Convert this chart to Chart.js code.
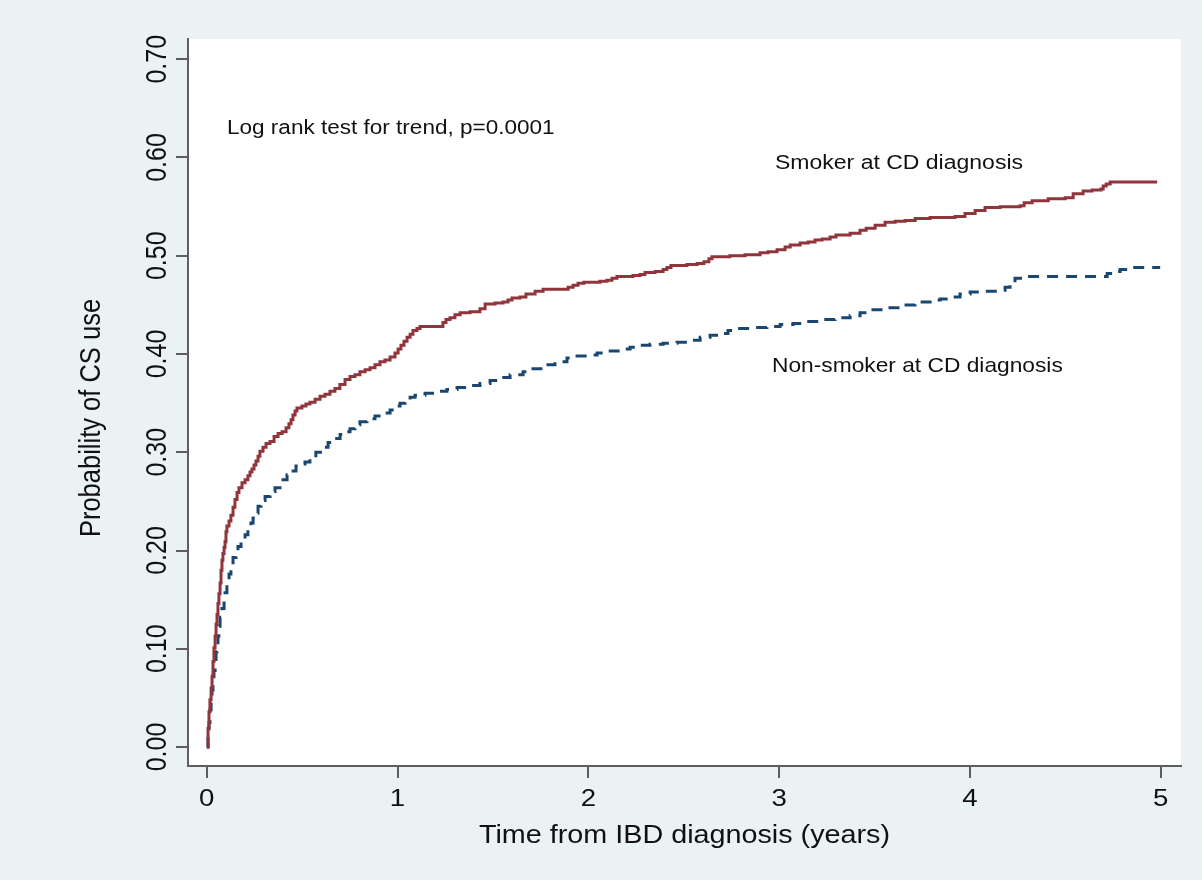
<!DOCTYPE html>
<html>
<head>
<meta charset="utf-8">
<script src="https://cdn.jsdelivr.net/npm/chart.js@4.4.1/dist/chart.umd.min.js"></script>
<style>
  html, body { margin: 0; padding: 0; background: #eaf2f3; }
  canvas { display: block; }
</style>
</head>
<body>
<canvas id="c" width="1202" height="880"></canvas>
<script>
// ---- Data ----
const xTickValues = [0, 1, 2, 3, 4, 5];
const xTickLabels = ['0', '1', '2', '3', '4', '5'];
const yTickValues = [0, 0.1, 0.2, 0.3, 0.4, 0.5, 0.6, 0.7];
const yTickLabels = ['0.00', '0.10', '0.20', '0.30', '0.40', '0.50', '0.60', '0.70'];

const xTitle = 'Time from IBD diagnosis (years)';
const yTitle = 'Probability of CS use';
const noteText = 'Log rank test for trend, p=0.0001';
const smokerLabel = 'Smoker at CD diagnosis';
const nonSmokerLabel = 'Non-smoker at CD diagnosis';

// Smoker at CD diagnosis (solid maroon step curve)
const smokerTime = [0, 0.007, 0.012, 0.017, 0.023, 0.028, 0.033, 0.038, 0.044, 0.049, 0.054, 0.059, 0.064, 0.070,
  0.075, 0.080, 0.085, 0.091, 0.096, 0.101, 0.106, 0.117, 0.127, 0.138, 0.148, 0.159, 0.169, 0.185, 0.201, 0.216,
  0.227, 0.237, 0.248, 0.258, 0.269, 0.279, 0.295, 0.311, 0.332, 0.353, 0.374, 0.395, 0.416, 0.431, 0.442, 0.452,
  0.463, 0.473, 0.499, 0.520, 0.541, 0.568, 0.594, 0.620, 0.646, 0.672, 0.698, 0.725, 0.751, 0.777, 0.803, 0.830,
  0.856, 0.882, 0.908, 0.934, 0.961, 0.987, 1.003, 1.018, 1.034, 1.050, 1.066, 1.081, 1.102, 1.118, 1.238, 1.254,
  1.275, 1.301, 1.328, 1.380, 1.432, 1.459, 1.511, 1.553, 1.579, 1.600, 1.642, 1.673, 1.721, 1.763, 1.894, 1.920,
  1.946, 1.977, 2.061, 2.098, 2.124, 2.150, 2.234, 2.271, 2.297, 2.350, 2.392, 2.412, 2.433, 2.517, 2.570, 2.606,
  2.632, 2.648, 2.742, 2.821, 2.900, 2.942, 2.989, 3.031, 3.058, 3.110, 3.152, 3.188, 3.225, 3.267, 3.298, 3.372,
  3.424, 3.456, 3.503, 3.555, 3.608, 3.660, 3.713, 3.791, 3.922, 3.974, 4.027, 4.079, 4.158, 4.263, 4.284, 4.326,
  4.410, 4.499, 4.541, 4.593, 4.640, 4.687, 4.698, 4.714, 4.735, 4.981];
const smokerProb = [0, 0.019, 0.036, 0.048, 0.060, 0.072, 0.087, 0.101, 0.113, 0.125, 0.135, 0.146, 0.156, 0.167,
  0.180, 0.190, 0.197, 0.203, 0.209, 0.219, 0.225, 0.230, 0.236, 0.244, 0.252, 0.259, 0.264, 0.269, 0.272, 0.276,
  0.280, 0.283, 0.287, 0.291, 0.296, 0.301, 0.305, 0.309, 0.311, 0.316, 0.319, 0.321, 0.325, 0.329, 0.333, 0.338,
  0.342, 0.345, 0.347, 0.349, 0.351, 0.354, 0.357, 0.359, 0.362, 0.365, 0.369, 0.374, 0.377, 0.379, 0.382, 0.384,
  0.386, 0.389, 0.392, 0.394, 0.397, 0.401, 0.405, 0.409, 0.413, 0.417, 0.420, 0.424, 0.426, 0.428, 0.432, 0.435,
  0.437, 0.440, 0.442, 0.443, 0.446, 0.451, 0.452, 0.453, 0.455, 0.457, 0.458, 0.461, 0.464, 0.466, 0.468, 0.470,
  0.472, 0.473, 0.474, 0.475, 0.477, 0.479, 0.480, 0.481, 0.483, 0.484, 0.486, 0.488, 0.490, 0.491, 0.492, 0.494,
  0.497, 0.499, 0.500, 0.501, 0.503, 0.504, 0.506, 0.509, 0.511, 0.513, 0.514, 0.516, 0.517, 0.519, 0.521, 0.523,
  0.526, 0.528, 0.531, 0.534, 0.535, 0.536, 0.538, 0.539, 0.540, 0.543, 0.546, 0.549, 0.550, 0.551, 0.554, 0.556,
  0.558, 0.559, 0.563, 0.566, 0.567, 0.568, 0.571, 0.573, 0.575, 0.575];

// Non-smoker at CD diagnosis (dashed navy step curve)
const nonSmokerTime = [0, 0.007, 0.012, 0.017, 0.023, 0.028, 0.033, 0.038, 0.044, 0.049, 0.054, 0.059, 0.064, 0.070,
  0.080, 0.091, 0.096, 0.106, 0.117, 0.127, 0.138, 0.154, 0.164, 0.180, 0.201, 0.216, 0.232, 0.243, 0.253, 0.269,
  0.285, 0.306, 0.332, 0.358, 0.384, 0.400, 0.421, 0.442, 0.468, 0.489, 0.515, 0.541, 0.572, 0.604, 0.636, 0.667,
  0.699, 0.725, 0.751, 0.777, 0.803, 0.840, 0.882, 0.919, 0.961, 0.987, 1.013, 1.039, 1.066, 1.092, 1.144, 1.207,
  1.259, 1.312, 1.369, 1.432, 1.485, 1.537, 1.590, 1.658, 1.710, 1.763, 1.825, 1.888, 1.941, 1.993, 2.046, 2.098,
  2.156, 2.219, 2.271, 2.323, 2.392, 2.465, 2.523, 2.586, 2.638, 2.690, 2.732, 2.779, 2.847, 2.936, 3.005, 3.073,
  3.146, 3.214, 3.293, 3.372, 3.424, 3.477, 3.555, 3.634, 3.712, 3.791, 3.844, 3.896, 3.948, 4.001, 4.079, 4.158,
  4.184, 4.210, 4.236, 4.289, 4.719, 4.750, 4.787, 4.855, 4.997];
const nonSmokerProb = [0, 0.012, 0.025, 0.038, 0.048, 0.058, 0.068, 0.078, 0.089, 0.097, 0.104, 0.113, 0.123, 0.132,
  0.141, 0.152, 0.157, 0.167, 0.176, 0.184, 0.193, 0.199, 0.204, 0.209, 0.216, 0.222, 0.228, 0.233, 0.238, 0.245,
  0.251, 0.255, 0.260, 0.264, 0.267, 0.272, 0.277, 0.281, 0.286, 0.288, 0.290, 0.294, 0.300, 0.305, 0.310, 0.314,
  0.318, 0.321, 0.324, 0.328, 0.331, 0.334, 0.337, 0.340, 0.343, 0.347, 0.350, 0.353, 0.356, 0.358, 0.360, 0.362,
  0.364, 0.366, 0.368, 0.370, 0.373, 0.376, 0.379, 0.382, 0.385, 0.389, 0.392, 0.396, 0.398, 0.399, 0.401, 0.403,
  0.405, 0.407, 0.409, 0.410, 0.411, 0.412, 0.414, 0.417, 0.419, 0.421, 0.424, 0.426, 0.427, 0.428, 0.430, 0.431,
  0.433, 0.435, 0.437, 0.439, 0.442, 0.445, 0.447, 0.450, 0.453, 0.455, 0.456, 0.458, 0.461, 0.463, 0.464, 0.465,
  0.468, 0.470, 0.477, 0.479, 0.482, 0.484, 0.486, 0.488, 0.488];

// ---- Styling ----
const BG = '#eaf2f3';
const AXIS = '#5e5e5e';
const TEXT = '#111111';
const FONT = '"Liberation Sans", Arial, Helvetica, sans-serif';
const SX = 1.15; // horizontal glyph stretch seen in the reference

function toXY(xs, ys) { return xs.map((x, i) => ({ x: x, y: ys[i] })); }

function stretchedText(ctx, text, x, y, size, align, rotated) {
  ctx.save();
  ctx.font = size + 'px ' + FONT;
  ctx.fillStyle = TEXT;
  ctx.textAlign = align;
  ctx.textBaseline = 'alphabetic';
  ctx.translate(x, y);
  if (rotated) {
    ctx.rotate(-Math.PI / 2);
    ctx.scale(1, SX);
  } else {
    ctx.scale(SX, 1);
  }
  ctx.fillText(text, 0, 0);
  ctx.restore();
}

const backgroundPlugin = {
  id: 'bg',
  beforeDraw(chart) {
    const { ctx, chartArea: a } = chart;
    ctx.save();
    ctx.fillStyle = BG;
    ctx.fillRect(0, 0, chart.width, chart.height);
    ctx.fillStyle = '#ffffff';
    ctx.fillRect(a.left, a.top, a.right - a.left, a.bottom - a.top);
    ctx.restore();
  }
};

const textPlugin = {
  id: 'texts',
  afterDraw(chart) {
    const ctx = chart.ctx;
    const xs = chart.scales.x, ys = chart.scales.y;
    const a = chart.chartArea;
    yTickValues.forEach((v, i) => {
      stretchedText(ctx, yTickLabels[i], 166, ys.getPixelForValue(v), 25, 'center', true);
    });
    xTickValues.forEach((v, i) => {
      stretchedText(ctx, xTickLabels[i], xs.getPixelForValue(v), 806, 24, 'center', false);
    });
    stretchedText(ctx, xTitle, (a.left + a.right) / 2, 843, 25, 'center', false);
    stretchedText(ctx, yTitle, 100, 418, 25.5, 'center', true);
    stretchedText(ctx, noteText, 227, 134, 19.6, 'left', false);
    stretchedText(ctx, smokerLabel, 775, 169, 20, 'left', false);
    stretchedText(ctx, nonSmokerLabel, 772, 372, 19.8, 'left', false);
  }
};

new Chart(document.getElementById('c'), {
  type: 'line',
  data: {
    datasets: [
      {
        label: smokerLabel,
        data: toXY(smokerTime, smokerProb),
        borderColor: '#90353b',
        borderWidth: 3,
        stepped: 'before',
        pointRadius: 0,
        fill: false
      },
      {
        label: nonSmokerLabel,
        data: toXY(nonSmokerTime, nonSmokerProb),
        borderColor: '#1a476f',
        borderWidth: 3,
        borderDash: [11, 8],
        stepped: 'before',
        pointRadius: 0,
        fill: false
      }
    ]
  },
  options: {
    responsive: false,
    animation: false,
    devicePixelRatio: 1,
    layout: { padding: { top: 39, right: 21, left: 0, bottom: 0 } },
    plugins: { legend: { display: false }, tooltip: { enabled: false } },
    scales: {
      x: {
        type: 'linear',
        min: -0.098,
        max: 5.106,
        afterBuildTicks(scale) { scale.ticks = xTickValues.map(v => ({ value: v })); },
        afterFit(scale) { scale.height = 114; },
        ticks: { display: false },
        grid: { drawOnChartArea: false, drawTicks: true, tickLength: 12, color: AXIS, lineWidth: 2 },
        border: { display: true, color: AXIS, width: 2 },
        title: { display: false }
      },
      y: {
        type: 'linear',
        min: -0.0193,
        max: 0.7206,
        afterBuildTicks(scale) { scale.ticks = yTickValues.map(v => ({ value: v })); },
        afterFit(scale) { scale.width = 188; },
        ticks: { display: false },
        grid: { drawOnChartArea: false, drawTicks: true, tickLength: 12, color: AXIS, lineWidth: 2 },
        border: { display: true, color: AXIS, width: 2 },
        title: { display: false }
      }
    }
  },
  plugins: [backgroundPlugin, textPlugin]
});
</script>
</body>
</html>
